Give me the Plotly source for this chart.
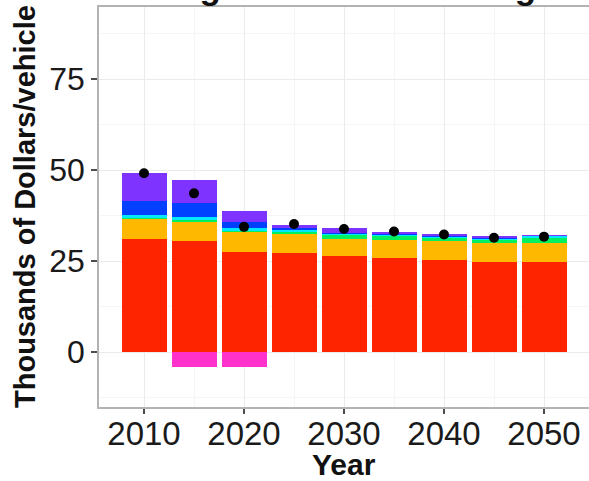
import plotly.graph_objects as go

years = [2010, 2015, 2020, 2025, 2030, 2035, 2040, 2045, 2050]
base = [31.1, 30.6, 27.6, 27.1, 26.5, 25.9, 25.3, 24.8, 24.8]
engine = [5.4, 5.2, 5.3, 5.3, 4.5, 5.0, 5.3, 5.1, 5.1]
green = [0.6, 0.6, 0.6, 0.8, 1.2, 1.0, 0.8, 1.0, 1.5]
cyan = [0.5, 0.6, 0.5, 0.3, 0.3, 0.5, 0.4, 0.2, 0.5]
blue = [4.0, 4.0, 1.8, 0.6, 0.3, 0.1, 0.1, 0.1, 0.05]
purple = [7.5, 6.3, 2.9, 0.9, 1.2, 0.4, 0.6, 0.6, 0.05]
credit = [0, -4.0, -4.0, 0, 0, 0, 0, 0, 0]
total = [49.1, 43.6, 34.4, 35.2, 33.8, 33.1, 32.3, 31.4, 31.7]

y_ticks = [0, 25, 50, 75]
x_ticks = [2010, 2020, 2030, 2040, 2050]

layers = [
    ("base", base, "#FF2400"),
    ("engine", engine, "#FFB800"),
    ("green", green, "#00F060"),
    ("cyan", cyan, "#00E8FF"),
    ("blue", blue, "#0040FF"),
    ("purple", purple, "#7F33FF"),
    ("credit", credit, "#FF33CC"),
]

fig = go.Figure()
for name, vals, col in layers:
    fig.add_trace(go.Bar(x=years, y=vals, name=name, width=4.5,
                         marker=dict(color=col, line=dict(width=0)),
                         showlegend=False))
fig.add_trace(go.Scatter(x=years, y=total, mode="markers",
                         marker=dict(color="black", size=10),
                         showlegend=False))

font_family = "Liberation Sans, Arial, sans-serif"
fig.update_layout(
    width=589, height=481,
    margin=dict(l=99, r=0, t=7, b=74, pad=0),
    barmode="relative", bargap=0,
    plot_bgcolor="white", paper_bgcolor="white",
    font=dict(family=font_family, color="#1a1a1a"),
    xaxis=dict(range=[2005.5, 2054.5], tickvals=x_ticks, ticktext=[str(v) for v in x_ticks],
               showgrid=True, gridcolor="#ebebeb", gridwidth=1.2,
               minor=dict(dtick=5, tick0=2005, showgrid=True, gridcolor="#f5f5f5", gridwidth=1),
               ticks="outside", ticklen=5, tickwidth=2, tickcolor="#4d4d4d",
               ticklabelstandoff=-8,
               tickfont=dict(size=33, color="#1a1a1a"),
               showline=True, linecolor="#b3b3b3", linewidth=1.5, mirror=True,
               zeroline=False, automargin=False),
    yaxis=dict(range=[-15.1, 94.8], tickvals=y_ticks, ticktext=[str(v) for v in y_ticks],
               showgrid=True, gridcolor="#ebebeb", gridwidth=1.2,
               minor=dict(dtick=12.5, tick0=-12.5, showgrid=True, gridcolor="#f5f5f5", gridwidth=1),
               ticks="outside", ticklen=6, tickwidth=2, tickcolor="#4d4d4d",
               tickfont=dict(size=32, color="#1a1a1a"),
               showline=True, linecolor="#b3b3b3", linewidth=1.5, mirror=True,
               zeroline=False, automargin=False),
    annotations=[
        dict(text="<b>Year</b>", xref="paper", yref="paper", x=0.5, y=0,
             yshift=-57, xanchor="center", yanchor="middle", showarrow=False,
             font=dict(size=30, color="#111111", family=font_family)),
        dict(text="<b>Thousands of Dollars/vehicle</b>", xref="paper", yref="paper",
             x=0, xshift=-74, y=0.5, xanchor="center", yanchor="middle", textangle=-90,
             showarrow=False, font=dict(size=29, color="#111111", family=font_family)),
        dict(text="<b>Weight vs Electric Range</b>", xref="paper", yref="paper",
             x=0.5, xshift=3, y=1, yshift=-1, xanchor="center", yanchor="bottom", showarrow=False,
             font=dict(size=35, color="#111111", family=font_family)),
    ],
)

fig.write_html("out.html", config={"displayModeBar": False},
               post_script="document.body.style.margin='0';document.body.style.padding='0';document.body.style.overflow='hidden';")
